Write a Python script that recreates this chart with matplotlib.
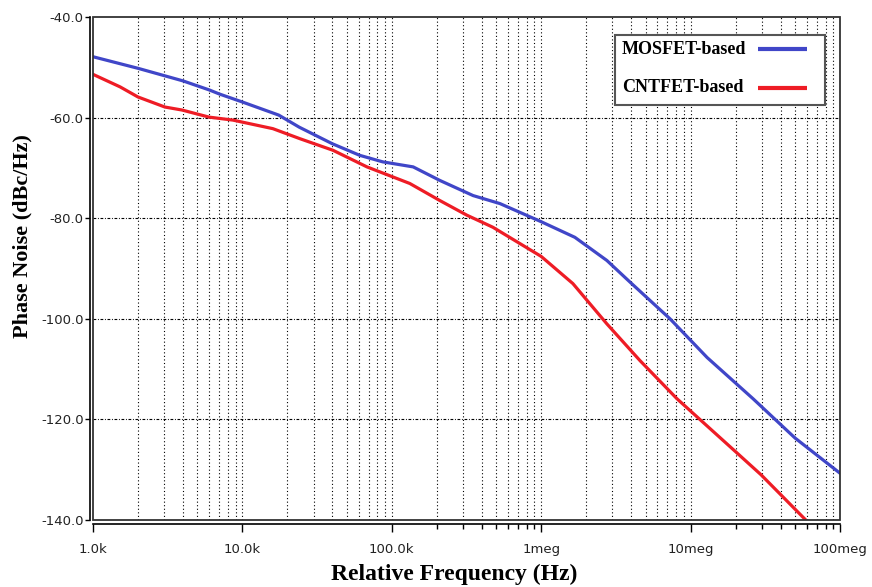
import numpy as np
import matplotlib
matplotlib.use('Agg')
import matplotlib.pyplot as plt
from matplotlib.patches import Rectangle
from matplotlib.lines import Line2D
from matplotlib.ticker import FixedLocator, NullFormatter

# 相位噪声数据 (频偏 Hz, dBc/Hz)
mos_freq = [1e3, 2e3, 4e3, 6e3, 7e3, 1e4, 1.75e4, 2.4e4, 4e4, 6.1e4, 8.7e4,
            1.39e5, 2.1e5, 3.5e5, 5.3e5, 1e6, 1.68e6, 2.75e6, 3.93e6, 7.28e6,
            1.29e7, 2.62e7, 5e7, 1e8]
mos_pn = [-47.9, -50.2, -52.7, -54.5, -55.3, -56.9, -59.5, -61.9, -65.2, -67.5, -68.8,
          -69.8, -72.5, -75.5, -77.1, -80.7, -83.8, -88.4, -92.7, -100.0,
          -107.7, -115.9, -123.7, -130.7]

cnt_freq = [1e3, 1.52e3, 2e3, 3.03e3, 3.95e3, 5.97e3, 8.65e3, 1.6e4, 2.43e4, 4.04e4,
            6.82e4, 1.32e5, 2.1e5, 3.18e5, 4.75e5, 1e6, 1.63e6, 2.75e6, 4.58e6,
            8.11e6, 1.98e7, 2.96e7, 5.9e7]
cnt_pn = [-51.4, -53.9, -55.9, -57.9, -58.5, -59.9, -60.5, -62.2, -64.2, -66.5,
          -69.8, -73.1, -76.5, -79.4, -81.8, -87.6, -93.0, -101.0, -108.3,
          -115.9, -126.3, -131.0, -140.0]

labels = ['MOSFET-based', 'CNTFET-based']
xticks = [1e3, 1e4, 1e5, 1e6, 1e7, 1e8]
xtick_labels = ['1.0k', '10.0k', '100.0k', '1meg', '10meg', '100meg']
yticks = [-140, -120, -100, -80, -60, -40]

blue = '#4046C8'
red = '#EE1C25'
serif = ['Liberation Serif', 'DejaVu Serif']
W, H = 872, 587

fig = plt.figure(figsize=(W / 100, H / 100), dpi=100)
ax = fig.add_axes([93 / W, 1 - 520 / H, 747 / W, 503 / H])

ax.set_xscale('log')
ax.set_xlim(1e3, 1e8)
ax.set_ylim(-140, -40)

# 网格: 竖线点线, 横线点划线
for d in range(3, 8):
    for k in range(1, 10):
        f = k * 10 ** d
        if 1e3 < f < 1e8:
            ax.axvline(f, color='black', lw=0.8, ls=(0, (1, 2.2)), zorder=1)
for y in [-60, -80, -100, -120]:
    ax.axhline(y, color='black', lw=0.8, ls=(0, (2.5, 1.5, 0.8, 1.5)), zorder=1)

ax.plot(mos_freq, mos_pn, color=blue, lw=2.3, zorder=3)
ax.plot(cnt_freq, cnt_pn, color=red, lw=2.3, zorder=3)

# 外框 + 偏移的坐标轴
ax.add_patch(Rectangle((0, 0), 1, 1, transform=ax.transAxes, fill=False,
                       ec='#333333', lw=1.3, zorder=4, clip_on=False))
ax.spines['top'].set_visible(False)
ax.spines['right'].set_visible(False)
ax.spines['left'].set_position(('outward', 2.2))
ax.spines['bottom'].set_position(('outward', 2.6))
ax.spines['left'].set_linewidth(1.2)
ax.spines['bottom'].set_linewidth(1.2)

ax.set_yticks(yticks)
ax.set_yticklabels(['%.1f' % v for v in yticks])
ax.set_xticks(xticks)
ax.set_xticklabels(xtick_labels)
minor = [k * 10 ** d for d in (5, 7) for k in range(2, 10)]
ax.xaxis.set_minor_locator(FixedLocator(minor))
ax.xaxis.set_minor_formatter(NullFormatter())
ax.yaxis.set_minor_locator(FixedLocator([]))
ax.tick_params(axis='y', which='major', length=3.6, width=1, pad=1,
               labelsize=9.5, labelcolor='#222222')
ax.tick_params(axis='x', which='major', length=5.8, width=1, pad=8,
               labelsize=9.5, labelcolor='#222222')
ax.tick_params(axis='x', which='minor', length=3.5, width=1)

fig.text(454 / W, 1 - 574 / H, 'Relative Frequency (Hz)', ha='center', va='center',
         fontsize=17, fontweight='bold', family=serif)
fig.text(22 / W, 1 - 236 / H, 'Phase Noise (dBc/Hz)', ha='center', va='center',
         rotation=90, fontsize=16, fontweight='bold', family=serif)

# 图例: 文字在左, 线段在右
fig.add_artist(Rectangle((615 / W, 1 - 105 / H), 210 / W, 70 / H,
                         transform=fig.transFigure, fc='white', ec='#555555',
                         lw=1.5, zorder=5))
for lab, col, yy in zip(labels, [blue, red], [49, 88]):
    fig.text(622 / W, 1 - yy / H, lab, ha='left', va='center', fontsize=13,
             fontweight='bold', family=serif, zorder=6)
    fig.add_artist(Line2D([758 / W, 807 / W], [1 - yy / H, 1 - yy / H],
                          transform=fig.transFigure, color=col, lw=3,
                          solid_capstyle='butt', zorder=6))

fig.savefig('out.png', dpi=100)
